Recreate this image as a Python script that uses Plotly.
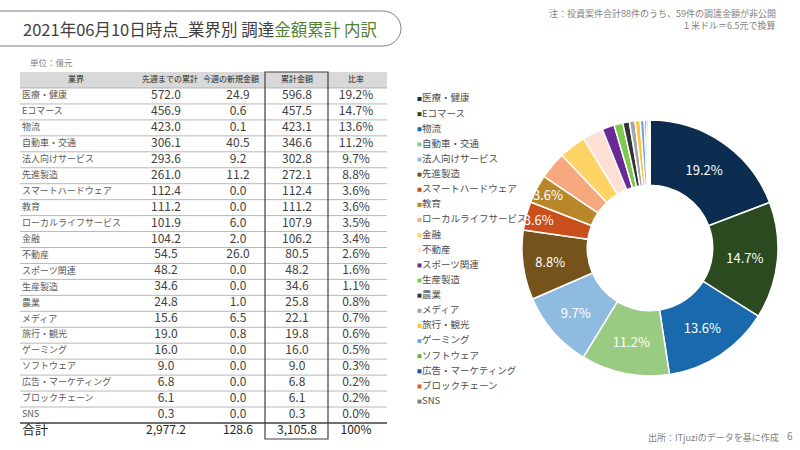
import plotly.graph_objects as go

# ---------------- data ----------------
industries = ["医療・健康", "Eコマース", "物流", "自動車・交通", "法人向けサービス", "先進製造",
              "スマートハードウェア", "教育", "ローカルライフサービス", "金融", "不動産", "スポーツ関連",
              "生産製造", "農業", "メディア", "旅行・観光", "ゲーミング", "ソフトウェア",
              "広告・マーケティング", "ブロックチェーン", "SNS"]
prev_cum = [572.0, 456.9, 423.0, 306.1, 293.6, 261.0, 112.4, 111.2, 101.9, 104.2, 54.5, 48.2,
            34.6, 24.8, 15.6, 19.0, 16.0, 9.0, 6.8, 6.1, 0.3]
new_week = [24.9, 0.6, 0.1, 40.5, 9.2, 11.2, 0.0, 0.0, 6.0, 2.0, 26.0, 0.0,
            0.0, 1.0, 6.5, 0.8, 0.0, 0.0, 0.0, 0.0, 0.0]
cum_total = [596.8, 457.5, 423.1, 346.6, 302.8, 272.1, 112.4, 111.2, 107.9, 106.2, 80.5, 48.2,
             34.6, 25.8, 22.1, 19.8, 16.0, 9.0, 6.8, 6.1, 0.3]
ratio_pct = [19.2, 14.7, 13.6, 11.2, 9.7, 8.8, 3.6, 3.6, 3.5, 3.4, 2.6, 1.6,
             1.1, 0.8, 0.7, 0.6, 0.5, 0.3, 0.2, 0.2, 0.0]
headers = ["業界", "先週までの累計", "今週の新規金額", "累計金額", "比率"]
total_label = "合計"
total_prev, total_new, total_sum, total_ratio = 2977.2, 128.6, 3105.8, 100
colors = ["#0d2d50", "#2b4a1f", "#1a69ad", "#9acb82", "#8fbbe1", "#76531a", "#c94f1d",
          "#b9872a", "#f7a87f", "#fed366", "#fde0d3", "#6a2a96", "#7dc94f", "#333333",
          "#a6a6a6", "#ffc23b", "#6ba8df", "#70ad47", "#1f4e99", "#e05a2a", "#7f7f7f"]
pie_label_min = 3.6

# ---------------- layout constants (pixels) ----------------
TL, TR = 20, 387
HEAD_TOP, HEAD_BOT = 72, 88
ROW_H = 15.95
TOT_TOP, TOT_BOT = 423, 439
row_y = [HEAD_BOT + (i + 0.5) * ROW_H for i in range(len(industries))]
head_y = (HEAD_TOP + HEAD_BOT) / 2
tot_y = (TOT_TOP + TOT_BOT) / 2
head_x = [76, 170, 231, 297, 356]
val_x = [166, 238, 297, 356]
BOX_L, BOX_R = 265, 328
LEG_Y0, LEG_DY = 99, 15.13
leg_y = [LEG_Y0 + i * LEG_DY for i in range(len(industries))]

FONT = "Noto Sans CJK JP"
fig = go.Figure()

# header
fig.add_trace(go.Scatter(x=head_x, y=[head_y] * 5, text=headers, mode="text",
                         textposition="middle center",
                         textfont=dict(family=FONT, size=8, color="#262626"),
                         hoverinfo="skip"))
# category labels
fig.add_trace(go.Scatter(x=[TL + 2] * len(industries), y=row_y, text=industries, mode="text",
                         textposition="middle right",
                         textfont=dict(family=FONT, size=9, color="#595959"),
                         hoverinfo="skip"))
# numeric columns
cols = [[f"{v:,.1f}" for v in prev_cum], [f"{v:,.1f}" for v in new_week],
        [f"{v:,.1f}" for v in cum_total], [f"{v:.1f}%" for v in ratio_pct]]
for cx, vals in zip(val_x, cols):
    fig.add_trace(go.Scatter(x=[cx] * len(vals), y=row_y, text=vals, mode="text",
                             textposition="middle center",
                             textfont=dict(family=FONT, size=12, color="#404040"),
                             hoverinfo="skip"))
# total row
fig.add_trace(go.Scatter(x=[TL + 2], y=[tot_y], text=[total_label], mode="text",
                         textposition="middle right",
                         textfont=dict(family=FONT, size=13, color="#262626"), hoverinfo="skip"))
fig.add_trace(go.Scatter(x=val_x, y=[tot_y] * 4,
                         text=[f"{total_prev:,.1f}", f"{total_new:,.1f}", f"{total_sum:,.1f}",
                               f"{total_ratio}%"],
                         mode="text", textposition="middle center",
                         textfont=dict(family=FONT, size=12, color="#262626"), hoverinfo="skip"))

# manual legend
fig.add_trace(go.Scatter(x=[419.5] * len(industries), y=leg_y, mode="markers",
                         marker=dict(symbol="square", size=4, color=colors), hoverinfo="skip"))
fig.add_trace(go.Scatter(x=[422] * len(industries), y=leg_y, text=industries, mode="text",
                         textposition="middle right",
                         textfont=dict(family=FONT, size=9.5, color="#4d4d4d"), hoverinfo="skip"))

# donut
fig.add_trace(go.Pie(labels=industries, values=cum_total, sort=False, direction="clockwise",
                     rotation=0, hole=0.49,
                     marker=dict(colors=colors, line=dict(color="white", width=1.5)),
                     text=[f"{r:.1f}%" if r >= pie_label_min else "" for r in ratio_pct],
                     textinfo="text", textposition="inside", insidetextorientation="horizontal",
                     textfont=dict(family=FONT, size=13, color="white"),
                     domain=dict(x=[522 / 800, 778 / 800], y=[1 - 376 / 450, 1 - 120 / 450]),
                     showlegend=False, hoverinfo="label+value"))

shapes = []
# header background
shapes.append(dict(type="rect", xref="x", yref="y", x0=TL, x1=TR, y0=HEAD_TOP, y1=HEAD_BOT,
                   fillcolor="#d9d9d9", line=dict(width=0), layer="below"))
# row separators
for k in range(len(industries)):
    yy = HEAD_BOT + k * ROW_H
    shapes.append(dict(type="line", xref="x", yref="y", x0=TL, x1=TR, y0=yy, y1=yy,
                       line=dict(color="#a6a6a6", width=0.8)))
# total line
shapes.append(dict(type="line", xref="x", yref="y", x0=TL, x1=TR, y0=TOT_TOP, y1=TOT_TOP,
                   line=dict(color="#404040", width=1.6)))
# box around 累計金額
shapes.append(dict(type="rect", xref="x", yref="y", x0=BOX_L, x1=BOX_R, y0=HEAD_TOP, y1=TOT_BOT,
                   line=dict(color="#404040", width=1.2)))
# title pill
shapes.append(dict(type="path", xref="x", yref="y",
                   path="M -5,11 L 383,11 C 393,11 401,19 401,28.5 C 401,38 393,46 383,46 L -5,46",
                   line=dict(color="#808080", width=1)))

annotations = [
    dict(x=21, y=29, xref="x", yref="y", xanchor="left", yanchor="middle", showarrow=False,
         text='2021年06月10日時点_業界別 調達<span style="color:#548235">金額累計 内訳</span>',
         font=dict(family=FONT, size=16.5, color="#404040")),
    dict(x=28, y=62, xref="x", yref="y", xanchor="left", yanchor="middle", showarrow=False,
         text="単位：億元", font=dict(family=FONT, size=8.5, color="#7f7f7f")),
    dict(x=778, y=13, xref="x", yref="y", xanchor="right", yanchor="middle", showarrow=False,
         text="注：投資案件合計88件のうち、59件の調達金額が非公開",
         font=dict(family=FONT, size=9, color="#7f7f7f")),
    dict(x=778, y=25, xref="x", yref="y", xanchor="right", yanchor="middle", showarrow=False,
         text="１米ドル＝6.5元で換算", font=dict(family=FONT, size=9, color="#7f7f7f")),
    dict(x=781, y=437, xref="x", yref="y", xanchor="right", yanchor="middle", showarrow=False,
         text="出所：ITjuziのデータを基に作成", font=dict(family=FONT, size=9, color="#7f7f7f")),
    dict(x=790, y=435, xref="x", yref="y", xanchor="center", yanchor="middle", showarrow=False,
         text="6", font=dict(family=FONT, size=10, color="#7f7f7f")),
]

fig.update_layout(
    width=800, height=450, margin=dict(l=0, r=0, t=0, b=0),
    paper_bgcolor="white", plot_bgcolor="white", showlegend=False,
    xaxis=dict(range=[0, 800], visible=False, fixedrange=True, domain=[0, 1]),
    yaxis=dict(range=[450, 0], visible=False, fixedrange=True, domain=[0, 1]),
    shapes=shapes, annotations=annotations,
    uniformtext=dict(minsize=12, mode="show"),
    font=dict(family=FONT),
)

fig.write_html("out.html", config=dict(displayModeBar=False),
               post_script="document.body.style.margin='0';document.body.style.overflow='hidden';")
